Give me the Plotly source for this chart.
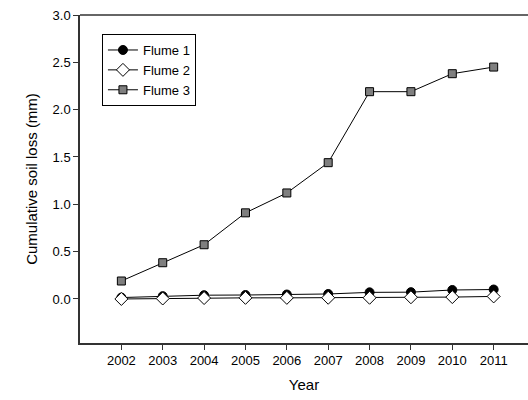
import plotly.graph_objects as go

years = [2002, 2003, 2004, 2005, 2006, 2007, 2008, 2009, 2010, 2011]
flume1 = [0.015, 0.03, 0.04, 0.042, 0.047, 0.053, 0.07, 0.072, 0.095, 0.10]
flume2 = [0.0, 0.005, 0.01, 0.012, 0.012, 0.013, 0.013, 0.018, 0.02, 0.027]
flume3 = [0.19, 0.383, 0.573, 0.91, 1.12, 1.44, 2.19, 2.19, 2.38, 2.45]
y_ticks = [0.0, 0.5, 1.0, 1.5, 2.0, 2.5, 3.0]

font = "Liberation Sans, Arial, sans-serif"
fig = go.Figure()
fig.add_trace(go.Scatter(x=years, y=flume1, name="Flume 1", mode="lines+markers",
                         line=dict(color="black", width=1),
                         marker=dict(symbol="circle", size=9, color="black",
                                     line=dict(color="black", width=1))))
fig.add_trace(go.Scatter(x=years, y=flume2, name="Flume 2", mode="lines+markers",
                         line=dict(color="black", width=1),
                         marker=dict(symbol="diamond", size=10, color="white",
                                     line=dict(color="black", width=1))))
fig.add_trace(go.Scatter(x=years, y=flume3, name="Flume 3", mode="lines+markers",
                         line=dict(color="black", width=1),
                         marker=dict(symbol="square", size=8, color="#7f7f7f",
                                     line=dict(color="black", width=1))))

fig.update_layout(
    width=528, height=400,
    margin=dict(l=80, r=0, t=15, b=57),
    paper_bgcolor="white", plot_bgcolor="white",
    font=dict(family=font, size=13, color="black"),
    showlegend=True,
    legend=dict(x=0.049, y=0.942, xanchor="left", yanchor="top",
                bordercolor="black", borderwidth=1, bgcolor="white",
                font=dict(family=font, size=13), tracegroupgap=0,
                itemwidth=30),
    xaxis=dict(range=[2001, 2011.83], tickmode="array", tickvals=years,
               ticktext=[str(y) for y in years],
               showgrid=False, zeroline=False, showline=True,
               linecolor="#333333", linewidth=1.5,
               ticks="outside", ticklen=5, tickcolor="#333333",
               title=dict(text="Year", font=dict(size=15), standoff=12)),
    yaxis=dict(range=[-0.465, 3.0], tickmode="array", tickvals=y_ticks,
               ticktext=[f"{v:.1f}" for v in y_ticks],
               showgrid=False, zeroline=False, showline=True, mirror=False,
               linecolor="#333333", linewidth=1.5,
               ticks="outside", ticklen=5, tickcolor="#333333",
               title=dict(text="Cumulative soil loss (mm)", font=dict(size=15), standoff=11)),
    shapes=[dict(type="line", xref="paper", yref="paper", x0=0, x1=1, y0=1, y1=1,
                 line=dict(color="#333333", width=1.5))],
)

fig.write_html("out.html")
